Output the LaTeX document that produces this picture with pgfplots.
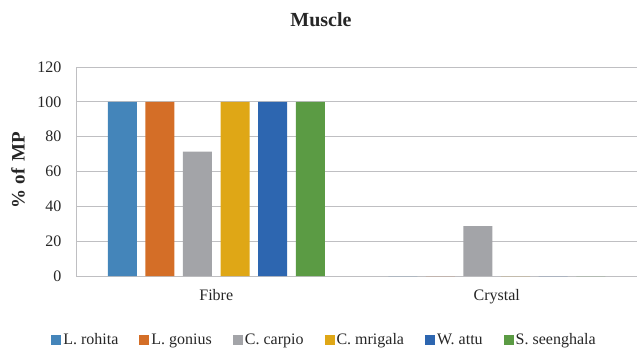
\documentclass[border=0pt]{standalone}
\usepackage{fontspec}
\setmainfont{Liberation Serif}
\usepackage{pgfplots}
\pgfplotsset{compat=1.18}
\definecolor{cA}{HTML}{4485BA}
\definecolor{cB}{HTML}{D46E27}
\definecolor{cC}{HTML}{A3A4A8}
\definecolor{cD}{HTML}{DFA716}
\definecolor{cE}{HTML}{2D66B0}
\definecolor{cF}{HTML}{5B9B44}
\definecolor{gridc}{HTML}{BFBFC2}
\begin{document}
\begin{tikzpicture}
\useasboundingbox (0,0) rectangle (637pt,354pt);
\begin{axis}[
  at={(76pt,78pt)}, anchor=south west,
  scale only axis, width=561pt, height=209pt,
  xmin=-0.5, xmax=1.5, ymin=0, ymax=120,
  ytick={0,20,40,60,80,100,120},
  xtick={0,1}, xticklabels={Fibre,Crystal},
  axis x line*=bottom, axis y line*=left,
  axis line style={-, draw=gridc, line width=0.9pt},
  ymajorgrids, major grid style={draw=gridc, line width=0.9pt},
  major tick length=0pt,
  ybar=8.6pt, bar width=29pt,
  every axis plot/.append style={draw=none},
  /pgf/number format/assume math mode=true,
  tick label style={font=\fontsize{16}{19}\selectfont, text=black!85},
  yticklabel style={xshift=-11pt},
  xticklabel style={yshift=-10pt},
  legend columns=6,
  legend style={at={(0.443,-0.306)}, anchor=center, draw=none, fill=none,
    font=\fontsize{16}{19}\selectfont, text=black!85,
    /tikz/every odd column/.append style={column sep=0pt},
    /tikz/every even column/.append style={column sep=19pt},
    nodes={inner xsep=2pt}},
  legend image code/.code={\fill[#1] (0pt,-5pt) rectangle (10pt,5pt);},
]
\addplot[fill=cA] coordinates {(0,100) (1,0)};
\addplot[fill=cB] coordinates {(0,100) (1,0)};
\addplot[fill=cC] coordinates {(0,71.4) (1,28.6)};
\addplot[fill=cD] coordinates {(0,100) (1,0)};
\addplot[fill=cE] coordinates {(0,100) (1,0)};
\addplot[fill=cF] coordinates {(0,100) (1,0)};
\legend{L. rohita, L. gonius, C. carpio, C. mrigala, W. attu, S. seenghala}
\end{axis}
\node[font=\fontsize{20}{24}\selectfont\bfseries, text=black!85] at (321pt,334pt) {Muscle};
\node[font=\fontsize{19}{22}\selectfont\bfseries, text=black!85, rotate=90] at (18pt,184pt) {\% of\hspace{7pt}MP};
\end{tikzpicture}
\end{document}
